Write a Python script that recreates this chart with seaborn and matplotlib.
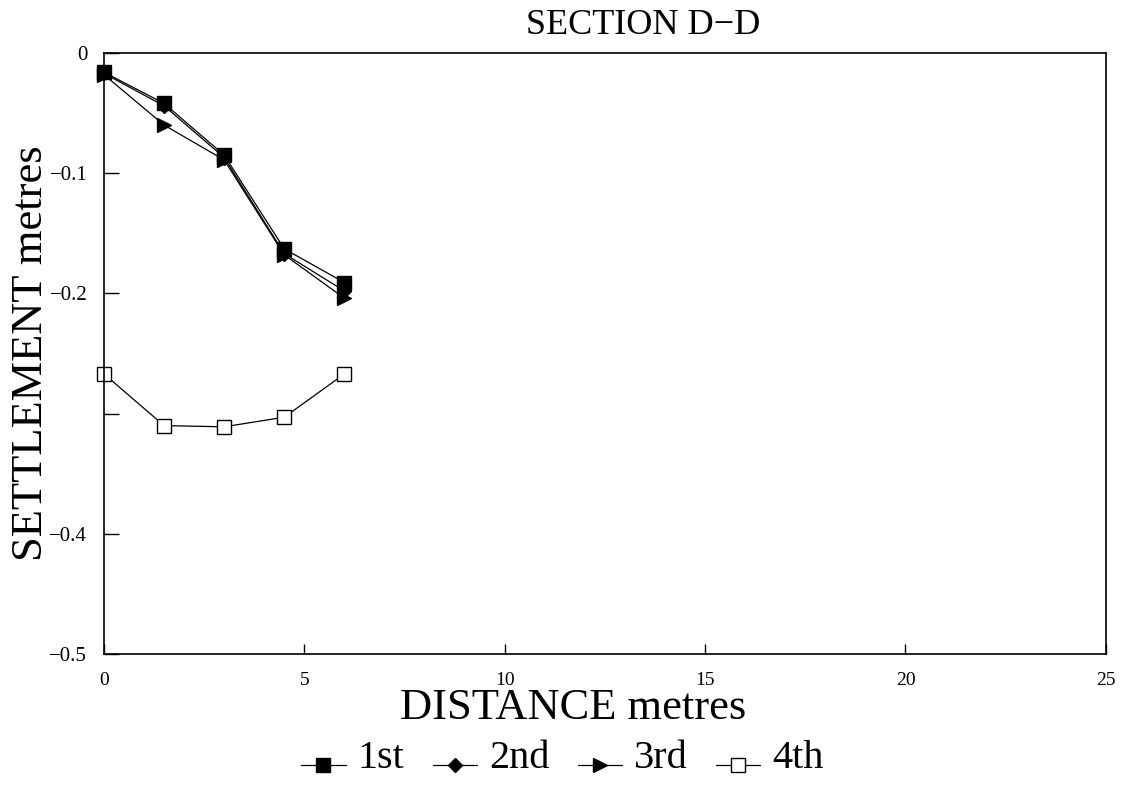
import numpy as np
import pandas as pd
import matplotlib
matplotlib.use("Agg")
import matplotlib.pyplot as plt
import seaborn as sns

# 측점 거리 (m)
distance = [0.0, 1.5, 3.0, 4.5, 6.0]

# 회차별 침하량 (m)
settle_1st = [-0.016, -0.042, -0.085, -0.163, -0.191]
settle_2nd = [-0.017, -0.044, -0.087, -0.167, -0.198]
settle_3rd = [-0.018, -0.060, -0.089, -0.168, -0.204]
settle_4th = [-0.267, -0.310, -0.311, -0.303, -0.267]

series_names = ["1st", "2nd", "3rd", "4th"]
x_ticks = [0, 5, 10, 15, 20, 25]
y_ticks = [0, -0.1, -0.2, -0.3, -0.4, -0.5]
y_tick_labels = ["0", "\u22120.1", "\u22120.2", "", "\u22120.4", "\u22120.5"]

sns.set_style("ticks")
plt.rcParams["font.family"] = ["Liberation Serif", "DejaVu Serif"]
plt.rcParams["text.color"] = "black"
plt.rcParams["xtick.color"] = "black"
plt.rcParams["ytick.color"] = "black"
plt.rcParams["axes.edgecolor"] = "black"

fig = plt.figure(figsize=(11.25, 7.87), dpi=100)
ax = fig.add_axes([0.0924, 0.169, 0.8906, 0.7637])

values = [settle_1st, settle_2nd, settle_3rd, settle_4th]
markers = ["s", "D", ">", "s"]
face = ["k", "k", "k", "white"]
msize = [10, 7, 10, 10]

for name, vals, m, fc, ms in zip(series_names, values, markers, face, msize):
    sns.lineplot(x=distance, y=vals, ax=ax, color="k", lw=0.9,
                 marker=m, markersize=ms, markerfacecolor=fc,
                 markeredgecolor="k", markeredgewidth=1.0, label=name,
                 clip_on=False)

ax.set_xlim(0, 25)
ax.set_ylim(-0.5, 0)
ax.set_xticks(x_ticks)
ax.set_yticks(y_ticks)
ax.set_yticklabels(y_tick_labels)
ax.tick_params(axis="x", direction="in", length=7, width=1.0, labelsize=14, pad=13)
ax.tick_params(axis="y", direction="in", length=11, width=1.0, labelsize=15, pad=12)
for sp in ax.spines.values():
    sp.set_visible(True)
    sp.set_linewidth(1.2)
ax.set_xlabel("")
ax.set_ylabel("")

# 축 제목, 그래프 제목
fig.text(0.572, 0.968, "SECTION D\u2212D", ha="center", va="center", fontsize=26)
fig.text(0.509, 0.100, "DISTANCE metres", ha="center", va="center", fontsize=32)
fig.text(0.028, 0.551, "SETTLEMENT metres", ha="center", va="center",
         rotation=90, fontsize=32)

handles, labels = ax.get_legend_handles_labels()
ax.get_legend().remove()
leg = fig.legend(handles, labels, loc="center", bbox_to_anchor=(0.5, 0.036),
                 ncol=4, frameon=False, fontsize=29, handlelength=1.1,
                 handletextpad=0.3, columnspacing=0.7, markerscale=0.95)
# 범례 기호를 글자 아래쪽 기준선에 맞춘다
for line in leg.get_lines():
    line.set_ydata(np.asarray(line.get_ydata()) - 8)

fig.savefig("out.png", dpi=100)
